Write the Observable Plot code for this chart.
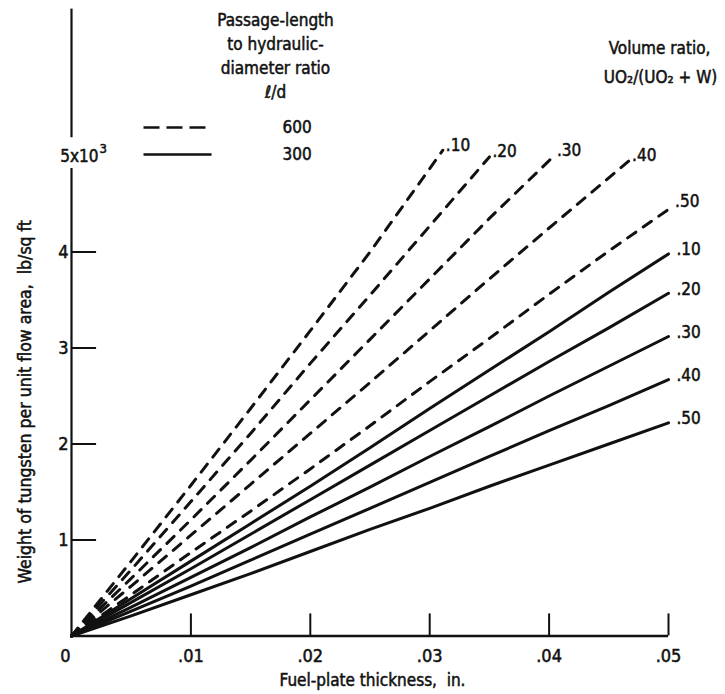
<!DOCTYPE html>
<html><head><meta charset="utf-8">
<script src="https://cdn.jsdelivr.net/npm/d3@7"></script>
<script src="https://cdn.jsdelivr.net/npm/@observablehq/plot@0.6"></script>
<style>
body{margin:0;background:#fff;}
svg{display:block}
</style></head><body><div id="chart"></div>
<script>
// ---- Data (weight in thousands of lb/sq ft vs fuel-plate thickness in inches) ----
// L/d = 600 (dashed)
const ld600_r10_x = [0, 0.005, 0.01, 0.015, 0.02, 0.025, 0.0311];
const ld600_r10_y = [0, 0.78, 1.57, 2.37, 3.18, 4.00, 5.06];
const ld600_r20_x = [0, 0.005, 0.01, 0.015, 0.02, 0.025, 0.03, 0.035];
const ld600_r20_y = [0, 0.69, 1.40, 2.11, 2.84, 3.55, 4.27, 4.99];
const ld600_r30_x = [0, 0.005, 0.01, 0.015, 0.02, 0.025, 0.03, 0.035, 0.0404];
const ld600_r30_y = [0, 0.60, 1.21, 1.83, 2.46, 3.09, 3.72, 4.35, 5.00];
const ld600_r40_x = [0, 0.005, 0.01, 0.015, 0.02, 0.025, 0.03, 0.035, 0.04, 0.0467];
const ld600_r40_y = [0, 0.52, 1.05, 1.58, 2.11, 2.64, 3.18, 3.72, 4.25, 4.95];
const ld600_r50_x = [0, 0.005, 0.01, 0.015, 0.02, 0.025, 0.03, 0.035, 0.04, 0.045, 0.0503];
const ld600_r50_y = [0, 0.43, 0.87, 1.30, 1.74, 2.19, 2.65, 3.10, 3.56, 4.01, 4.47];
// L/d = 300 (solid)
const ld300_x = [0, 0.005, 0.01, 0.015, 0.02, 0.025, 0.03, 0.035, 0.04, 0.045, 0.05];
const ld300_r10_y = [0, 0.39, 0.78, 1.17, 1.56, 1.96, 2.37, 2.77, 3.17, 3.58, 3.98];
const ld300_r20_y = [0, 0.35, 0.70, 1.06, 1.42, 1.78, 2.14, 2.50, 2.86, 3.21, 3.57];
const ld300_r30_y = [0, 0.30, 0.61, 0.92, 1.24, 1.55, 1.87, 2.18, 2.50, 2.81, 3.12];
const ld300_r40_y = [0, 0.26, 0.52, 0.79, 1.06, 1.33, 1.60, 1.87, 2.14, 2.40, 2.67];
const ld300_r50_y = [0, 0.21, 0.43, 0.65, 0.88, 1.11, 1.33, 1.56, 1.78, 2.00, 2.22];

const ratioLabels = [".10", ".20", ".30", ".40", ".50"];
const xTickValues = [0.01, 0.02, 0.03, 0.04, 0.05];
const xTickLabels = [".01", ".02", ".03", ".04", ".05"];
const yTickValues = [1, 2, 3, 4];
const yTickLabels = ["1", "2", "3", "4"];
const legendLabels = ["600", "300"];

// ---- Build tables ----
function rows(xs, ys, key, label) { return xs.map((x, i) => ({x, y: ys[i], key, label})); }
const dashedRows = [
  ...rows(ld600_r10_x, ld600_r10_y, "600-10", ratioLabels[0]),
  ...rows(ld600_r20_x, ld600_r20_y, "600-20", ratioLabels[1]),
  ...rows(ld600_r30_x, ld600_r30_y, "600-30", ratioLabels[2]),
  ...rows(ld600_r40_x, ld600_r40_y, "600-40", ratioLabels[3]),
  ...rows(ld600_r50_x, ld600_r50_y, "600-50", ratioLabels[4])
];
const solidRows = [
  ...rows(ld300_x, ld300_r10_y, "300-10", ratioLabels[0]),
  ...rows(ld300_x, ld300_r20_y, "300-20", ratioLabels[1]),
  ...rows(ld300_x, ld300_r30_y, "300-30", ratioLabels[2]),
  ...rows(ld300_x, ld300_r40_y, "300-40", ratioLabels[3]),
  ...rows(ld300_x, ld300_r50_y, "300-50", ratioLabels[4])
];

const FONT = "'DejaVu Sans Condensed', 'DejaVu Sans', sans-serif";
const ink = "#111";
const T = {fill: ink, stroke: ink, strokeWidth: 0.5};

const plot = Plot.plot({
  width: 725,
  height: 694,
  marginLeft: 71, marginRight: 57, marginTop: 8.6, marginBottom: 58.5,
  x: {domain: [0, 0.05], axis: null},
  y: {domain: [0, 6.53], axis: null},
  style: {fontFamily: FONT, fontStretch: "condensed", color: ink, background: "#fff"},
  marks: [
    // axes
    Plot.ruleY([0], {x1: 0, x2: 0.05, stroke: ink, strokeWidth: 2.5}),
    Plot.ruleX([0], {y1: 0, y2: 4.87, stroke: ink, strokeWidth: 2.2}),
    Plot.ruleX([0], {y1: 5.19, y2: 6.53, stroke: ink, strokeWidth: 2.2}),
    Plot.ruleX(xTickValues, {y1: 0, y2: 0.23, stroke: ink, strokeWidth: 2}),
    Plot.ruleY(yTickValues, {x1: 0, x2: 0.0021, stroke: ink, strokeWidth: 2}),
    Plot.text(xTickValues, {x: d => d, y: 0, text: (d, i) => xTickLabels[i], dy: 20, fontSize: 18, ...T}),
    Plot.text([0], {x: d => d, y: 0, text: () => "0", dx: -6, dy: 20, fontSize: 18, ...T}),
    Plot.text(yTickValues, {x: 0, y: d => d, text: (d, i) => yTickLabels[i], textAnchor: "end", dx: -3, fontSize: 18, ...T}),
    Plot.text([5], {x: 0, y: d => d, text: () => "5x10", textAnchor: "end", dx: 27, dy: 1, fontSize: 17, ...T}),
    Plot.text([5], {x: 0, y: d => d, text: () => "3", textAnchor: "start", dx: 28, dy: -7, fontSize: 13, ...T}),
    // axis titles
    Plot.text(["Fuel-plate thickness,  in."], {frameAnchor: "bottom", dx: 2.5, dy: 44.5, lineAnchor: "middle", fontSize: 17, ...T}),
    Plot.text([2.44], {x: 0, y: d => d, text: () => "Weight of tungsten per unit flow area,  lb/sq ft", rotate: -90, dx: -46, lineAnchor: "middle", fontSize: 17.5, ...T}),
    // curves
    Plot.line(dashedRows, {x: "x", y: "y", z: "key", stroke: ink, strokeWidth: 3, strokeDasharray: "10,9", strokeLinecap: "round"}),
    Plot.line(solidRows, {x: "x", y: "y", z: "key", stroke: ink, strokeWidth: 3, strokeLinecap: "round"}),
    Plot.text(dashedRows, Plot.selectLast({x: "x", y: "y", z: "key", text: "label", textAnchor: "start", dx: 3, dy: -5, fontSize: 17, ...T})),
    Plot.text(solidRows, Plot.selectLast({x: "x", y: "y", z: "key", text: "label", textAnchor: "start", dx: 8, dy: -4, fontSize: 17, ...T})),
    // legend
    Plot.text(["Passage-length\nto hydraulic-\ndiameter ratio\nℓ/d"], {frameAnchor: "top-left", dx: 204, dy: 45.4, lineAnchor: "middle", textAnchor: "middle", lineHeight: 1.41, fontSize: 17, ...T}),
    Plot.link([legendLabels[0]], {x1: 0.00603, x2: 0.01173, y1: 5.297, y2: 5.297, stroke: ink, strokeWidth: 2.5, strokeDasharray: "16,7"}),
    Plot.link([legendLabels[1]], {x1: 0.00603, x2: 0.01173, y1: 5.016, y2: 5.016, stroke: ink, strokeWidth: 2.5}),
    Plot.text([legendLabels[0]], {frameAnchor: "top-left", dx: 211, dy: 118.4, lineAnchor: "middle", fontSize: 17, ...T}),
    Plot.text([legendLabels[1]], {frameAnchor: "top-left", dx: 211, dy: 145.4, lineAnchor: "middle", fontSize: 17, ...T}),
    Plot.text(["Volume ratio,"], {frameAnchor: "top-right", dx: -9, dy: 39.4, lineAnchor: "middle", textAnchor: "middle", fontSize: 17, ...T}),
    Plot.text(["UO₂/(UO₂ + W)"], {frameAnchor: "top-right", dx: -8, dy: 68.4, lineAnchor: "middle", textAnchor: "middle", fontSize: 17, ...T})
  ]
});
document.getElementById("chart").appendChild(plot);
</script>
</body></html>
